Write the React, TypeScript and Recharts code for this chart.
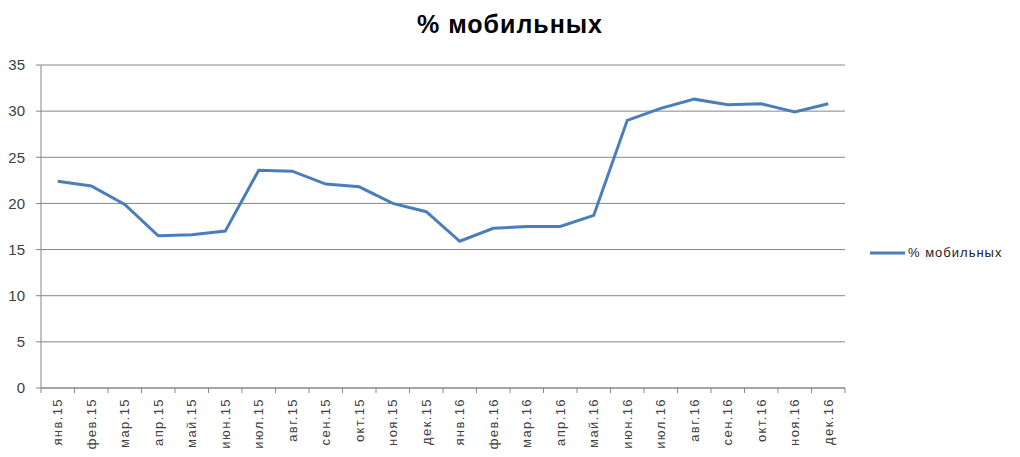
import React from "react";
import { LineChart, Line, XAxis, YAxis, CartesianGrid } from "recharts";

const months = [
  "янв.15", "фев.15", "мар.15", "апр.15", "май.15", "июн.15",
  "июл.15", "авг.15", "сен.15", "окт.15", "ноя.15", "дек.15",
  "янв.16", "фев.16", "мар.16", "апр.16", "май.16", "июн.16",
  "июл.16", "авг.16", "сен.16", "окт.16", "ноя.16", "дек.16",
];

const mobileShare = [
  22.4, 21.9, 19.9, 16.5, 16.6, 17.0,
  23.6, 23.5, 22.1, 21.8, 20.0, 19.1,
  15.9, 17.3, 17.5, 17.5, 18.7, 29.0,
  30.3, 31.3, 30.7, 30.8, 29.9, 30.8,
];

const yTicks = [0, 5, 10, 15, 20, 25, 30, 35];

const seriesName = "% мобильных";

const data = months.map((m, i) => ({ month: m, value: mobileShare[i] }));

const W = 1020;
const H = 457;
const margin = { top: 65, right: 175, bottom: 0, left: 0 };
const yAxisWidth = 41;
const xAxisHeight = 69;
const plotWidth = W - margin.left - margin.right - yAxisWidth;
const halfBand = plotWidth / months.length / 2;

const FONT = "'Liberation Sans', Arial, sans-serif";
const AXIS = "#868686";
const LINE = "#4a7ebb";

function MonthTick(props: any) {
  const { x, y, payload, index } = props;
  return (
    <g transform={`translate(${x},${y})`}>
      {index === 0 && <line x1={-halfBand} y1={0} x2={-halfBand} y2={5} stroke={AXIS} />}
      <line x1={halfBand} y1={0} x2={halfBand} y2={5} stroke={AXIS} />
      <text
        transform="rotate(-90)"
        x={-10}
        y={0}
        dy="0.35em"
        textAnchor="end"
        fontSize={13}
        letterSpacing={1.4}
        fill="#404040"
        fontFamily={FONT}
      >
        {payload.value}
      </text>
    </g>
  );
}

export default function App() {
  return (
    <div style={{ position: "absolute", left: 0, top: 0, width: W, height: H, background: "#fff" }}>
      <div
        style={{
          position: "absolute",
          left: 0,
          top: 10,
          width: W,
          textAlign: "center",
          fontFamily: FONT,
          fontWeight: "bold",
          fontSize: 25,
          letterSpacing: 1,
          color: "#000",
        }}
      >
        {seriesName}
      </div>
      <div
        style={{
          position: "absolute",
          left: 870,
          top: 245,
          display: "flex",
          alignItems: "center",
          fontFamily: FONT,
          fontSize: 13,
          letterSpacing: 1,
          color: "#222",
        }}
      >
        <svg width={38} height={8}>
          <line x1={0} y1={4} x2={35} y2={4} stroke={LINE} strokeWidth={3} />
        </svg>
        <span>{seriesName}</span>
      </div>
      <LineChart width={W} height={H} data={data} margin={margin}>
        <CartesianGrid horizontal vertical={false} stroke={AXIS} strokeWidth={1} />
        <XAxis
          dataKey="month"
          interval={0}
          height={xAxisHeight}
          padding={{ left: halfBand, right: halfBand }}
          tickLine={false}
          tickSize={0}
          tickMargin={0}
          axisLine={{ stroke: AXIS }}
          tick={<MonthTick />}
        />
        <YAxis
          domain={[0, 35]}
          ticks={yTicks}
          width={yAxisWidth}
          tickSize={5}
          tickMargin={11}
          axisLine={{ stroke: AXIS }}
          tickLine={{ stroke: AXIS }}
          tick={{ fill: "#404040", fontSize: 15, fontFamily: FONT }}
        />
        <Line
          type="linear"
          dataKey="value"
          name={seriesName}
          stroke={LINE}
          strokeWidth={3}
          dot={false}
          isAnimationActive={false}
        />
      </LineChart>
    </div>
  );
}
